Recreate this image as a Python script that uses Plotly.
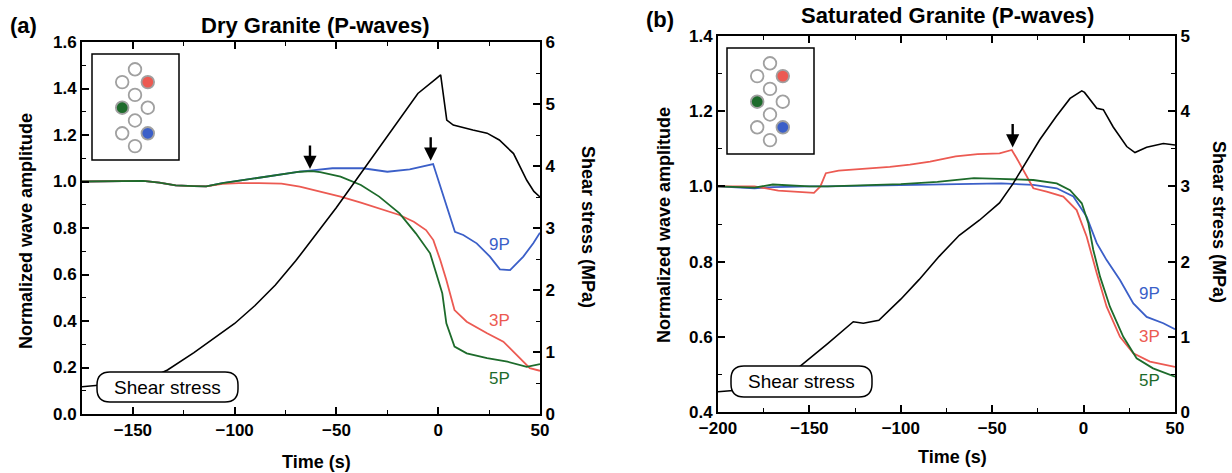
import plotly.graph_objects as go

# ---------------- data: (a) Dry granite ----------------
a_t_9P = [-175, -160, -145, -137, -129, -120, -114, -106, -98, -88, -79, -68, -62, -52, -37, -30, -25, -14, -6, -2.5, 8.2, 12.3, 18.9, 25.4, 30.3, 35.3, 41.8, 46.7, 50]
a_9P = [1.0, 1.0, 1.003, 0.995, 0.983, 0.98, 0.979, 0.993, 1.004, 1.016, 1.029, 1.042, 1.048, 1.057, 1.057, 1.05, 1.042, 1.052, 1.066, 1.075, 0.784, 0.77, 0.734, 0.677, 0.622, 0.619, 0.677, 0.734, 0.78]

a_t_5P = [-175, -160, -145, -137, -129, -120, -114, -106, -98, -88, -79, -68, -62, -58, -48, -38, -29, -19, -11, -4, -1, 2, 4, 8, 14, 24, 34, 43.5, 50]
a_5P = [1.0, 1.0, 1.003, 0.995, 0.983, 0.98, 0.979, 0.993, 1.004, 1.016, 1.029, 1.042, 1.045, 1.04, 1.021, 0.985, 0.935, 0.863, 0.777, 0.691, 0.605, 0.519, 0.39, 0.29, 0.261, 0.24, 0.225, 0.203, 0.215]

a_t_3P = [-175, -160, -145, -137, -129, -120, -114, -106, -98, -88, -77, -68, -58, -48, -38, -29, -19, -12, -6, -2.4, 1, 4, 8, 14, 24, 32, 38.5, 45, 50]
a_3P = [1.0, 1.0, 1.003, 0.995, 0.983, 0.98, 0.979, 0.99, 0.993, 0.993, 0.991, 0.978, 0.956, 0.935, 0.909, 0.885, 0.856, 0.827, 0.791, 0.748, 0.662, 0.576, 0.447, 0.397, 0.347, 0.311, 0.254, 0.197, 0.186]

a_t_stress = [-175, -155, -140, -133, -120, -110, -100, -90, -80, -70, -60, -50, -40, -30, -20, -10, -1, 1.2, 4.2, 7.4, 17, 24, 30, 37, 43.5, 47, 50]
a_stress = [0.44, 0.5, 0.6, 0.71, 0.99, 1.22, 1.46, 1.75, 2.08, 2.47, 2.9, 3.33, 3.79, 4.25, 4.73, 5.17, 5.41, 5.47, 4.74, 4.66, 4.58, 4.53, 4.42, 4.2, 3.77, 3.59, 3.5]

# ---------------- data: (b) Saturated granite ----------------
b_t_9P = [-200, -190, -180, -170, -160, -150, -140, -120, -100, -64, -45, -27.5, -14.7, -5.6, 1.7, 7.2, 12.6, 19.9, 27.2, 34.5, 43.6, 50]
b_9P = [1.0, 0.998, 0.995, 0.998, 1.0, 1.0, 1.0, 1.002, 1.004, 1.006, 1.008, 1.004, 0.995, 0.973, 0.919, 0.849, 0.804, 0.751, 0.689, 0.653, 0.636, 0.62]

b_t_5P = [-200, -190, -180, -170, -160, -150, -140, -120, -100, -80, -60, -46, -27.5, -14.7, -7.4, -1, 2.6, 5.3, 9, 14.4, 21.7, 29, 38, 50]
b_5P = [1.0, 0.998, 0.997, 1.005, 1.002, 1.0, 1.0, 1.003, 1.006, 1.012, 1.022, 1.02, 1.017, 1.008, 0.99, 0.955, 0.902, 0.831, 0.76, 0.68, 0.6, 0.543, 0.516, 0.494]

b_t_3P = [-200, -180, -167, -155, -147.5, -144, -141, -134, -120, -106, -95, -84, -70, -58, -46, -39.3, -36.6, -32, -27.5, -20.2, -11.1, -3.8, 1.7, 7.2, 12.6, 19.9, 27.2, 36.3, 50]
b_3P = [1.0, 1.0, 0.989, 0.985, 0.983, 1.0, 1.035, 1.042, 1.046, 1.052, 1.058, 1.066, 1.08, 1.086, 1.088, 1.097, 1.075, 1.035, 0.995, 0.986, 0.973, 0.937, 0.866, 0.769, 0.68, 0.6, 0.556, 0.534, 0.52]

b_t_stress = [-200, -185, -170, -155, -140, -126, -120.5, -112, -100, -90, -79, -68, -57, -46, -38.5, -31, -24, -15, -7.4, -1, 0.5, 7.2, 10.8, 16.2, 23.6, 28.1, 34.5, 43.6, 50]
b_stress = [0.27, 0.3, 0.4, 0.61, 0.91, 1.2, 1.18, 1.22, 1.5, 1.76, 2.07, 2.35, 2.55, 2.78, 3.04, 3.35, 3.62, 3.93, 4.17, 4.27, 4.25, 4.04, 4.02, 3.79, 3.53, 3.45, 3.52, 3.57, 3.55]

series_names = ["9P", "3P", "5P"]
a_arrow_t = [-63, -3.7]
a_arrow_amp = [1.05, 1.085]
b_arrow_t = [-38.8]
b_arrow_amp = [1.101]
a_label_t = [30.3, 30.3, 30.3]
a_label_amp = [0.727, 0.404, 0.153]
b_label_t = [36.3, 36.3, 36.3]
b_label_amp = [0.716, 0.6, 0.485]

# ---------------- styling ----------------
W, H = 1232, 473
BLUE, RED, GREEN = "#3b5fc8", "#ec5a52", "#1d6b2b"
COLORS = {"9P": BLUE, "3P": RED, "5P": GREEN}
FONT = "Liberation Sans"


def pxx(x):
    return x / W


def pxy(y):
    return 1 - y / H


panels = {
    "a": dict(x0=82, x1=540, top=42, bot=414),
    "b": dict(x0=718, x1=1175, top=36, bot=412),
}

fig = go.Figure()


def add_panel(xa, ya, ys, t9, v9, t3, v3, t5, v5, ts, vs):
    for name, t, v in (("9P", t9, v9), ("3P", t3, v3), ("5P", t5, v5)):
        fig.add_trace(go.Scatter(x=t, y=v, mode="lines", name=name,
                                 line=dict(color=COLORS[name], width=1.8),
                                 xaxis=xa, yaxis=ya, hoverinfo="skip"))
    fig.add_trace(go.Scatter(x=ts, y=vs, mode="lines", name="Shear stress",
                             line=dict(color="black", width=1.6),
                             xaxis=xa, yaxis=ys, hoverinfo="skip"))


add_panel("x", "y", "y2", a_t_9P, a_9P, a_t_3P, a_3P, a_t_5P, a_5P, a_t_stress, a_stress)
add_panel("x2", "y3", "y4", b_t_9P, b_9P, b_t_3P, b_3P, b_t_5P, b_5P, b_t_stress, b_stress)

tickfont = dict(family=FONT, size=17, color="black", weight="bold")


def axis(minor_dtick, **kw):
    d = dict(showline=True, linecolor="black", linewidth=2, ticks="inside", ticklen=7,
             tickwidth=1.5, tickcolor="black", showgrid=False, zeroline=False,
             automargin=False, tickfont=tickfont,
             minor=dict(dtick=minor_dtick, ticks="inside", ticklen=4, tickwidth=1.2,
                        tickcolor="black", showgrid=False))
    d.update(kw)
    return d


pa, pb = panels["a"], panels["b"]
fig.update_layout(
    width=W, height=H, margin=dict(l=0, r=0, t=0, b=0, autoexpand=False), autosize=False,
    paper_bgcolor="white", plot_bgcolor="white", showlegend=False,
    font=dict(family=FONT, color="black"),
    xaxis=axis(25, domain=[pxx(pa["x0"]), pxx(pa["x1"])], range=[-175, 50], dtick=50, tick0=0,
               mirror="ticks", anchor="y"),
    yaxis=axis(0.1, domain=[pxy(pa["bot"]), pxy(pa["top"])], range=[0, 1.6], dtick=0.2,
               tick0=0, tickformat=".1f", anchor="x"),
    yaxis2=axis(0.5, range=[0, 6], dtick=1, tick0=0, overlaying="y", side="right",
                anchor="x", tickformat="d"),
    xaxis2=axis(25, domain=[pxx(pb["x0"]), pxx(pb["x1"])], range=[-200, 50], dtick=50, tick0=0,
                mirror="ticks", anchor="y3"),
    yaxis3=axis(0.1, domain=[pxy(pb["bot"]), pxy(pb["top"])], range=[0.4, 1.4], dtick=0.2,
                tick0=0, tickformat=".1f", anchor="x2"),
    yaxis4=axis(0.5, range=[0, 5], dtick=1, tick0=0, overlaying="y3", side="right",
                anchor="x2", tickformat="d"),
)

ann = []
title_font = dict(family=FONT, size=22, color="black", weight="bold")
axt_font = dict(family=FONT, size=18, color="black", weight="bold")


def pann(text, x, y, font, angle=0):
    ann.append(dict(text=text, x=pxx(x), y=pxy(y), xref="paper", yref="paper",
                    showarrow=False, font=font, textangle=angle,
                    xanchor="center", yanchor="middle"))


pann("(a)", 23, 25, title_font)
pann("Dry Granite (P-waves)", 315, 25, title_font)
pann("(b)", 660, 19, title_font)
pann("Saturated Granite (P-waves)", 948, 15, title_font)
pann("Normalized wave amplitude", 26, 231, axt_font, -90)
pann("Normalized wave amplitude", 664, 225, axt_font, -90)
pann("Shear stress (MPa)", 588, 227, axt_font, 90)
pann("Shear stress (MPa)", 1219, 222, axt_font, 90)
pann("Time (s)", 316, 462, axt_font)
pann("Time (s)", 952, 457, axt_font)

# arrows marking onsets
for xa, ya, ts, vs in (("x", "y", a_arrow_t, a_arrow_amp), ("x2", "y3", b_arrow_t, b_arrow_amp)):
    for t, v in zip(ts, vs):
        ann.append(dict(x=t, y=v, xref=xa, yref=ya, text="", showarrow=True,
                        ax=0, ay=-26, arrowhead=2, arrowsize=1.1, arrowwidth=2.4,
                        arrowcolor="black", standoff=1))

# series labels
lab_font = lambda c: dict(family=FONT, size=17, color=c)
for xa, ya, ts, vs in (("x", "y", a_label_t, a_label_amp), ("x2", "y3", b_label_t, b_label_amp)):
    for name, t, v in zip(series_names, ts, vs):
        ann.append(dict(x=t, y=v, xref=xa, yref=ya, text=name, showarrow=False,
                        font=lab_font(COLORS[name]), xanchor="center", yanchor="middle"))

# "Shear stress" labels (rounded boxes) and electrode insets
shapes = []


def rounded_box(x0, y0, x1, y1, r):
    X = lambda v: pxx(v)
    Y = lambda v: pxy(v)
    path = (f"M {X(x0 + r)} {Y(y0)} L {X(x1 - r)} {Y(y0)} Q {X(x1)} {Y(y0)} {X(x1)} {Y(y0 + r)} "
            f"L {X(x1)} {Y(y1 - r)} Q {X(x1)} {Y(y1)} {X(x1 - r)} {Y(y1)} "
            f"L {X(x0 + r)} {Y(y1)} Q {X(x0)} {Y(y1)} {X(x0)} {Y(y1 - r)} "
            f"L {X(x0)} {Y(y0 + r)} Q {X(x0)} {Y(y0)} {X(x0 + r)} {Y(y0)} Z")
    shapes.append(dict(type="path", path=path, xref="paper", yref="paper",
                       line=dict(color="black", width=1.5), fillcolor="white", layer="above"))
    ann.append(dict(text="Shear stress", x=pxx((x0 + x1) / 2), y=pxy((y0 + y1) / 2),
                    xref="paper", yref="paper", showarrow=False,
                    font=dict(family=FONT, size=19, color="black"),
                    xanchor="center", yanchor="middle"))


rounded_box(97, 372, 238, 402, 13)
rounded_box(731, 366, 872, 397, 13)

inset_fill = {(1, 1): RED, (3, -1): GREEN, (5, 1): BLUE}
inset_layout = [(0, 0), (1, -1), (1, 1), (2, 0), (3, -1), (3, 1), (4, 0), (5, -1), (5, 1), (6, 0)]


def inset(bx, by):
    shapes.append(dict(type="rect", xref="paper", yref="paper",
                       x0=pxx(bx), x1=pxx(bx + 87), y0=pxy(by + 106), y1=pxy(by),
                       line=dict(color="black", width=1.5), fillcolor="white", layer="above"))
    cx0, cy0, dx, dy, r = bx + 43, by + 15.3, 12.8, 12.8, 6.3
    for row, col in inset_layout:
        cx = cx0 + col * dx
        cy = cy0 + row * dy
        fill = inset_fill.get((row, col), "white")
        shapes.append(dict(type="circle", xref="paper", yref="paper",
                           x0=pxx(cx - r), x1=pxx(cx + r), y0=pxy(cy + r), y1=pxy(cy - r),
                           line=dict(color="#a0a0a0", width=1.8), fillcolor=fill, layer="above"))


inset(92, 54)
inset(727, 48)

fig.update_layout(annotations=ann, shapes=shapes)
fig.write_html("out.html")
